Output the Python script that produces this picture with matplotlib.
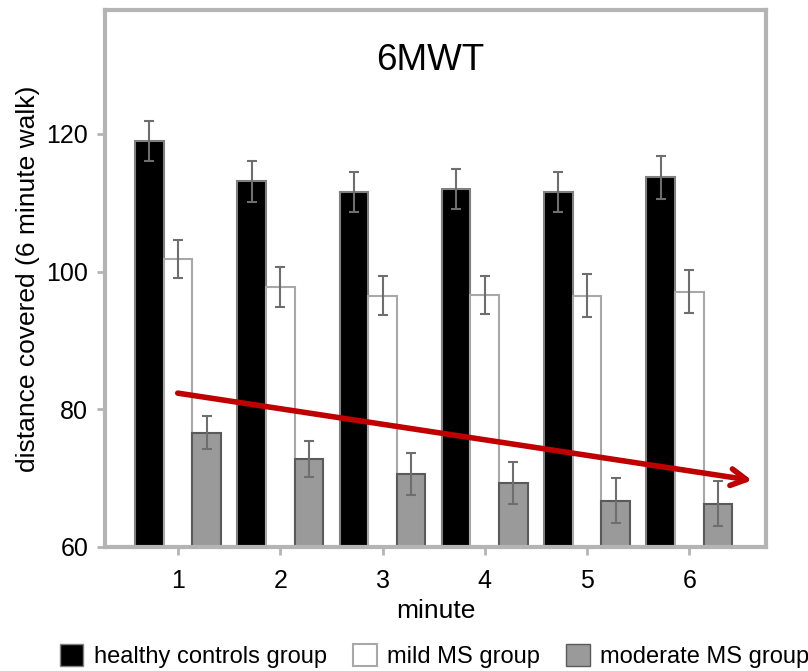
"""
6MWT grouped bar chart: distance covered per minute for three groups.
"""

import matplotlib.pyplot as plt
import numpy as np
from matplotlib.patches import Patch

plt.rcParams["font.family"] = ["Liberation Sans", "DejaVu Sans"]

minutes = [1, 2, 3, 4, 5, 6]
group_names = ["healthy controls group", "mild MS group", "moderate MS group"]

healthy_mean = [119.0, 113.1, 111.6, 112.0, 111.6, 113.7]
healthy_err = [2.9, 3.0, 2.9, 2.9, 2.9, 3.1]
mild_mean = [101.8, 97.7, 96.5, 96.6, 96.5, 97.1]
mild_err = [2.8, 2.9, 2.8, 2.8, 3.1, 3.1]
moderate_mean = [76.6, 72.8, 70.6, 69.3, 66.7, 66.3]
moderate_err = [2.4, 2.6, 3.0, 3.0, 3.3, 3.3]

y_ticks = [60, 80, 100, 120]

# arrow drawn over the chart to show the downward trend (data coords)
arrow_start = (0.97, 82.4)
arrow_end = (6.64, 69.6)

AXIS_GREY = "#b4b4b4"

fig = plt.figure(figsize=(8.08, 6.71), dpi=100)
ax = fig.add_axes([0.130, 0.185, 0.818, 0.80])

x = np.array(minutes, dtype=float)
width = 0.28

series = [
    (healthy_mean, healthy_err, -width, "black", "#808080"),
    (mild_mean, mild_err, 0.0, "white", "#a8a8a8"),
    (moderate_mean, moderate_err, width, "#9a9a9a", "#5a5a5a"),
]
for mean, err, offset, face, edge in series:
    ax.bar(x + offset, np.array(mean) - 60, width, bottom=60,
           color=face, edgecolor=edge, linewidth=1.5, zorder=2)
    ax.errorbar(x + offset, mean, yerr=err, fmt="none", ecolor="#6e6e6e",
                elinewidth=1.5, capsize=3.5, capthick=1.5, zorder=3)

ax.annotate("", xy=arrow_end, xytext=arrow_start,
            arrowprops=dict(arrowstyle="->,head_length=1.1,head_width=0.6",
                            color="#c00000", lw=4),
            zorder=4)

ax.text(0.492, 0.906, "6MWT", transform=ax.transAxes, ha="center",
        va="center", fontsize=26.5)

ax.set_xlim(0.286, 6.75)
ax.set_ylim(60, 138)
ax.set_xticks(minutes)
ax.set_yticks(y_ticks)
ax.tick_params(axis="both", labelsize=18, color=AXIS_GREY, width=2, length=6)
ax.tick_params(axis="x", pad=10)
ax.tick_params(axis="y", pad=6)

for spine in ax.spines.values():
    spine.set_color(AXIS_GREY)
    spine.set_linewidth(3)

ax.set_xlabel("minute", fontsize=19, labelpad=4)
ax.set_ylabel("distance covered (6 minute walk)", fontsize=19, labelpad=5)

handles = [
    Patch(facecolor="black", edgecolor="#808080", label=group_names[0]),
    Patch(facecolor="white", edgecolor="#a8a8a8", linewidth=1.5, label=group_names[1]),
    Patch(facecolor="#9a9a9a", edgecolor="#5a5a5a", label=group_names[2]),
]
fig.legend(handles=handles, loc="center", bbox_to_anchor=(0.538, 0.022),
           ncol=3, frameon=False, fontsize=17, handlelength=1.0,
           handleheight=1.0, columnspacing=1.1, handletextpad=0.45,
           borderpad=0.0, borderaxespad=0.0)

fig.savefig("out.png", dpi=100)
